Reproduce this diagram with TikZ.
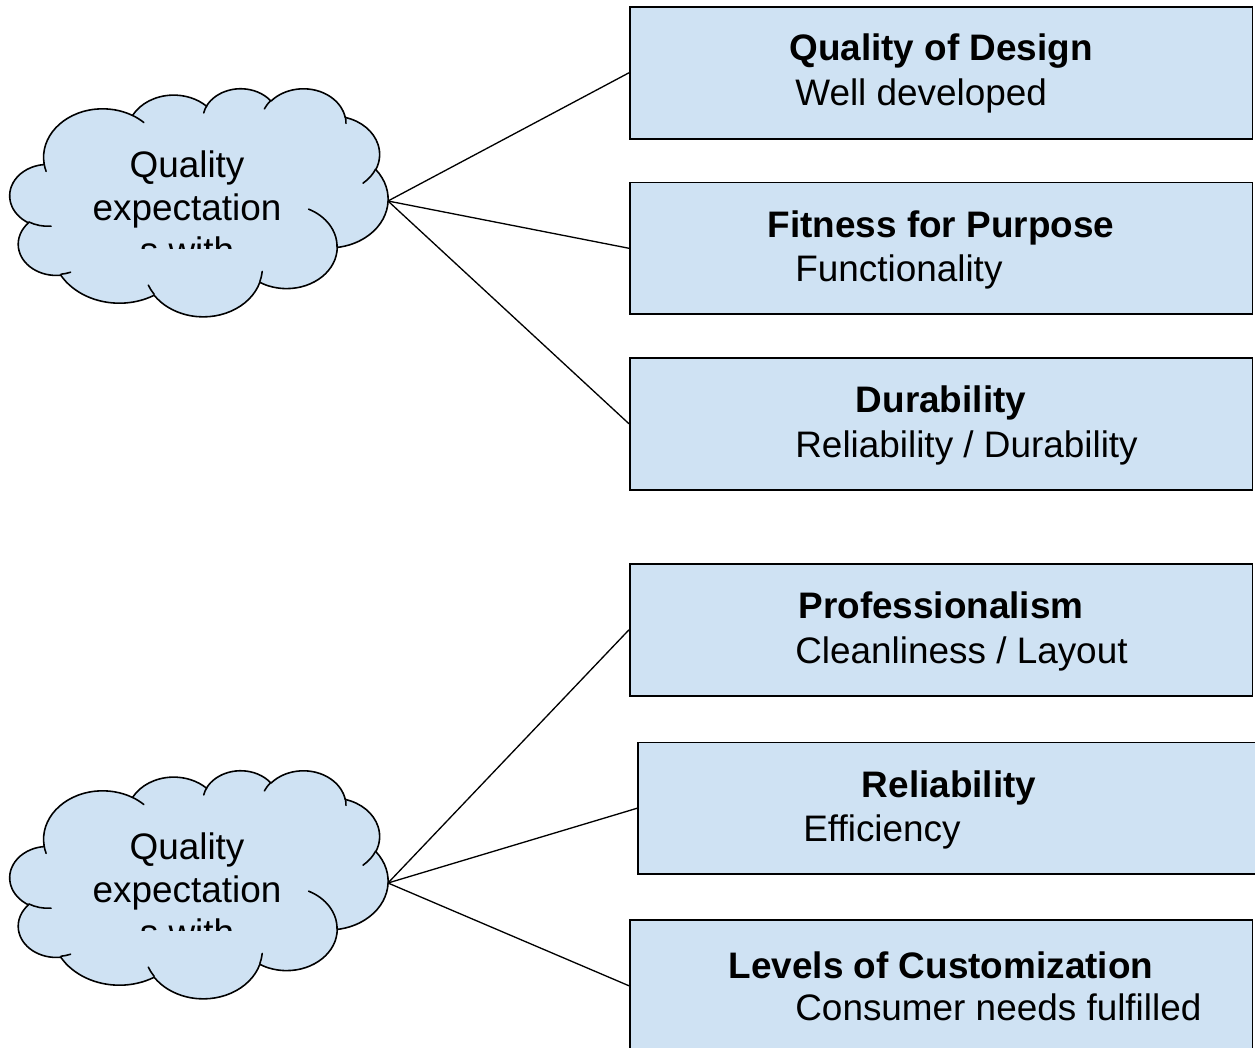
\documentclass[tikz,border=0pt]{standalone}
\usepackage{fontspec}
\setmainfont{Liberation Sans}
\definecolor{boxblue}{HTML}{CFE2F3}
\tikzset{
  % elliptical arc given by radii, visual start angle and sweep (degrees)
  oarc/.style n args={4}{insert path={
    arc[start angle={atan2((#1)*sin(#3),(#2)*cos(#3))},
        delta angle={mod(atan2((#1)*sin((#3)+(#4)),(#2)*cos((#3)+(#4)))-atan2((#1)*sin(#3),(#2)*cos(#3))+720,360)},
        x radius=#1, y radius=#2]}},
  cloudshape/.style={draw=black, fill=boxblue, line width=0.9pt, line join=round},
  cloudline/.style={draw=black, line width=0.9pt, line cap=round},
  box/.style={draw=black, fill=boxblue, line width=0.9pt, anchor=north west,
    minimum width=12.46cm, minimum height=2.64cm, inner sep=0pt},
  title/.style={font=\fontsize{21}{25}\selectfont\bfseries, anchor=base, inner sep=0pt},
  sub/.style={font=\fontsize{21}{25}\selectfont, anchor=base west, inner sep=0pt},
  cloudtext/.style={font=\fontsize{21}{25}\selectfont, anchor=base, inner sep=0pt},
  link/.style={draw=black, line width=0.75pt},
}
% cloud outline and its inner arcs, in a 432 x 432 frame
\newcommand{\drawcloud}{%
  \path[cloudshape] (39.00,143.70)
    [oarc={67.53}{91.90}{-190.48748}{123.78053}]
    [oarc={53.33}{72.67}{-144.10238}{89.94523}]
    [oarc={43.65}{59.45}{-145.80792}{99.72302}]
    [oarc={48.57}{65.95}{-130.98607}{117.24173}]
    [oarc={53.33}{72.73}{-78.70888}{109.02692}]
    [oarc={67.75}{92.20}{-46.26725}{130.269}]
    [oarc={57.85}{78.67}{0.62502}{114.03333}]
    [oarc={67.52}{92.15}{22.4516}{115.17255}]
    [oarc={77.20}{105.43}{66.24263}{75.71102}]
    [oarc={43.60}{59.18}{-274.94208}{146.73557}]
    [oarc={43.45}{59.45}{-246.8285}{152.51885}]
    -- cycle;
  \path[cloudline]
    (46.93,261.77) [oarc={43.45}{59.45}{86.742}{26.4295}]
    (69.28,348.99) [oarc={43.60}{59.18}{73.61047}{11.44747}]
    (164.78,390.90) [oarc={67.52}{92.15}{137.62415}{14.0811}]
    (288.27,347.51) [oarc={67.52}{92.15}{6.45327}{15.99835}]
    (341.29,229.54) [oarc={57.85}{78.67}{-70.29235}{70.91737}]
    (417.98,153.54) [oarc={53.33}{72.73}{30.31803}{27.7515}]
    (383.24,54.26) [oarc={48.57}{65.95}{-13.74433}{14.8589}]
    (290.78,39.52) [oarc={48.57}{65.95}{-149.18145}{18.19537}]
    (221.41,47.20) [oarc={43.65}{59.45}{-163.49427}{17.68635}]
    (140.00,51.92) [oarc={67.53}{91.90}{-66.70695}{12.31935}]
    (41.27,157.89) [oarc={67.53}{91.90}{157.65435}{11.85817}];
}
\begin{document}
\begin{tikzpicture}[x=0.02cm, y=-0.02cm]
  \useasboundingbox (0,0) rectangle (1255,1048);
  \clip (0,0) rectangle (1255,1048);

  % clouds
  \begin{scope}[shift={(10,88)}, x=0.0175cm, y=-0.0105556cm]
    \drawcloud
  \end{scope}
  \begin{scope}[shift={(10,770)}, x=0.0175cm, y=-0.0105556cm]
    \drawcloud
  \end{scope}
  \coordinate (c1) at (388,201);
  \coordinate (c2) at (388,883);

  % cloud texts, last line cut off by the text frame
  \node[cloudtext] (t1a) at (187,177) {Quality};
  \node[cloudtext] (t1b) at (187,220) {expectation};
  \node[cloudtext] (t2a) at (187,859) {Quality};
  \node[cloudtext] (t2b) at (187,902) {expectation};
  \begin{scope}
    \clip (0,0) rectangle (400,248);
    \node[cloudtext] (t1c) at (187,263) {s with};
  \end{scope}
  \begin{scope}
    \clip (0,682) rectangle (400,930);
    \node[cloudtext] (t2c) at (187,945) {s with};
  \end{scope}

  % boxes
  \node[box] (b1) at (629,6) {};
  \node[box] (b2) at (629,181.5) {};
  \node[box] (b3) at (629,357) {};
  \node[box] (b4) at (629,563) {};
  \node[box] (b5) at (637,741.5) {};
  \node[box] (b6) at (629,919) {};

  % box texts
  \node[title] (h1) at (941,60) {Quality of Design};
  \node[sub]   (s1) at (795,105) {Well developed};
  \node[title] (h2) at (941,237) {Fitness for Purpose};
  \node[sub]   (s2) at (795,281) {Functionality};
  \node[title] (h3) at (941,412) {Durability};
  \node[sub]   (s3) at (795,457) {Reliability / Durability};
  \node[title] (h4) at (941,618) {Professionalism};
  \node[sub]   (s4) at (795,663) {Cleanliness / Layout};
  \node[title] (h5) at (949,797) {Reliability};
  \node[sub]   (s5) at (803,841) {Efficiency};
  \node[title] (h6) at (941,978) {Levels of Customization};
  \node[sub]   (s6) at (795,1020) {Consumer needs fulfilled};

  % connectors
  \draw[link] (c1) -- (b1.west);
  \draw[link] (c1) -- (b2.west);
  \draw[link] (c1) -- (b3.west);
  \draw[link] (c2) -- (b4.west);
  \draw[link] (c2) -- (b5.west);
  \draw[link] (c2) -- (b6.west);
\end{tikzpicture}
\end{document}
